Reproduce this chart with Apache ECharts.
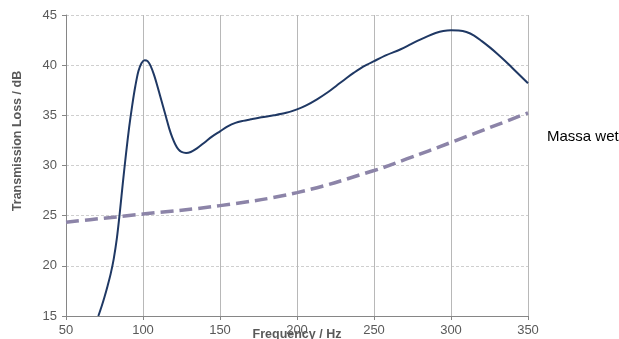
<!DOCTYPE html>
<html>
<head>
<meta charset="utf-8">
<script src="https://cdn.jsdelivr.net/npm/echarts@6/dist/echarts.min.js"></script>
<style>
html,body{margin:0;padding:0;background:#fff;}
#chart{width:619px;height:339px;}
</style>
</head>
<body>
<div id="chart"></div>
<script>
// Measured transmission loss (solid line)
const measuredFreq = [71, 73, 75, 77, 79, 81, 83, 85, 87, 89, 91, 93, 95, 97, 99, 101, 103, 105, 107, 109, 111, 113, 115, 117, 119, 121, 123, 125, 128, 131, 135, 140, 145, 150, 155, 160, 165, 170, 177, 185, 193, 200, 206, 213, 220, 226, 232, 237, 243, 250, 258, 267, 274, 280, 285, 290, 295, 300, 305, 310, 315, 320, 325, 330, 335, 340, 345, 350];
const measuredTL   = [15.0, 15.9, 16.9, 18.0, 19.2, 20.7, 22.7, 25.4, 28.4, 31.2, 33.8, 36.0, 37.9, 39.4, 40.2, 40.5, 40.4, 39.9, 39.1, 38.1, 37.0, 35.9, 34.8, 33.7, 32.8, 32.1, 31.6, 31.35, 31.25, 31.35, 31.7, 32.3, 32.9, 33.4, 33.9, 34.25, 34.45, 34.6, 34.8, 35.0, 35.25, 35.6, 36.0, 36.6, 37.3, 38.0, 38.7, 39.25, 39.85, 40.4, 41.0, 41.56, 42.1, 42.55, 42.9, 43.2, 43.4, 43.47, 43.45, 43.3, 42.95, 42.4, 41.8, 41.15, 40.45, 39.7, 38.95, 38.2];
// Mass law, wet (dashed line)
const massFreq = [50, 65.6, 100, 150, 200, 250, 271.2, 300, 350];
const massTL   = [24.35, 24.6, 25.16, 26.0, 27.3, 29.5, 30.65, 32.3, 35.24];
const xTicks = [50, 100, 150, 200, 250, 300, 350];
const yTicks = [15, 20, 25, 30, 35, 40, 45];
const seriesNames = ['Measured', 'Massa wet'];

const pair = (xs, ys) => xs.map((x, i) => [x, ys[i]]);
const chart = echarts.init(document.getElementById('chart'), null, {renderer: 'canvas'});
const labelColor = '#595959';
chart.setOption({
  animation: false,
  backgroundColor: '#ffffff',
  grid: {left: 66, right: 91, top: 15, bottom: 23, containLabel: false, outerBoundsMode: 'none'},
  legend: {
    data: [seriesNames[1]],
    left: 537, top: 124,
    itemWidth: 0, itemHeight: 0, itemGap: 0,
    icon: 'rect',
    textStyle: {color: '#000000', fontSize: 15, fontFamily: 'Liberation Sans, Arial, sans-serif'}
  },
  xAxis: {
    type: 'value', min: xTicks[0], max: xTicks[xTicks.length - 1], interval: 50,
    name: 'Frequency / Hz', nameLocation: 'middle', nameGap: 12, nameMoveOverlap: false,
    nameTextStyle: {color: labelColor, fontWeight: 'bold', fontSize: 12.5, fontFamily: 'Liberation Sans, Arial, sans-serif'},
    axisLine: {lineStyle: {color: '#868686', width: 1}},
    axisTick: {show: true, length: 4, lineStyle: {color: '#868686'}},
    axisLabel: {color: labelColor, fontSize: 13, margin: 8, fontFamily: 'Liberation Sans, Arial, sans-serif'},
    splitLine: {show: true, lineStyle: {color: '#b8b8b8', width: 1, type: 'solid'}}
  },
  yAxis: {
    type: 'value', min: yTicks[0], max: yTicks[yTicks.length - 1], interval: 5,
    axisLine: {show: true, lineStyle: {color: '#868686', width: 1}},
    axisTick: {show: true, length: 4, lineStyle: {color: '#868686'}},
    axisLabel: {color: labelColor, fontSize: 13, margin: 9, fontFamily: 'Liberation Sans, Arial, sans-serif'},
    splitLine: {show: true, lineStyle: {color: '#cfcfcf', width: 1, type: [3, 2]}}
  },
  graphic: [{
    type: 'text', x: 18, y: 141, rotation: Math.PI / 2,
    style: {text: 'Transmission Loss / dB', fill: labelColor, font: 'bold 12.5px "Liberation Sans", Arial, sans-serif', textAlign: 'center', textVerticalAlign: 'middle'}
  }],
  series: [
    {
      name: seriesNames[0], type: 'line', data: pair(measuredFreq, measuredTL),
      smooth: 0.3, showSymbol: false, symbol: 'none',
      lineStyle: {color: '#1f3864', width: 2}, itemStyle: {color: '#1f3864'}, z: 3
    },
    {
      name: seriesNames[1], type: 'line', data: pair(massFreq, massTL),
      smooth: 0.4, showSymbol: false, symbol: 'none',
      lineStyle: {color: '#8c84a8', width: 3.5, type: [13, 6]}, itemStyle: {color: '#8c84a8'}, z: 2
    }
  ]
});
</script>
</body>
</html>
